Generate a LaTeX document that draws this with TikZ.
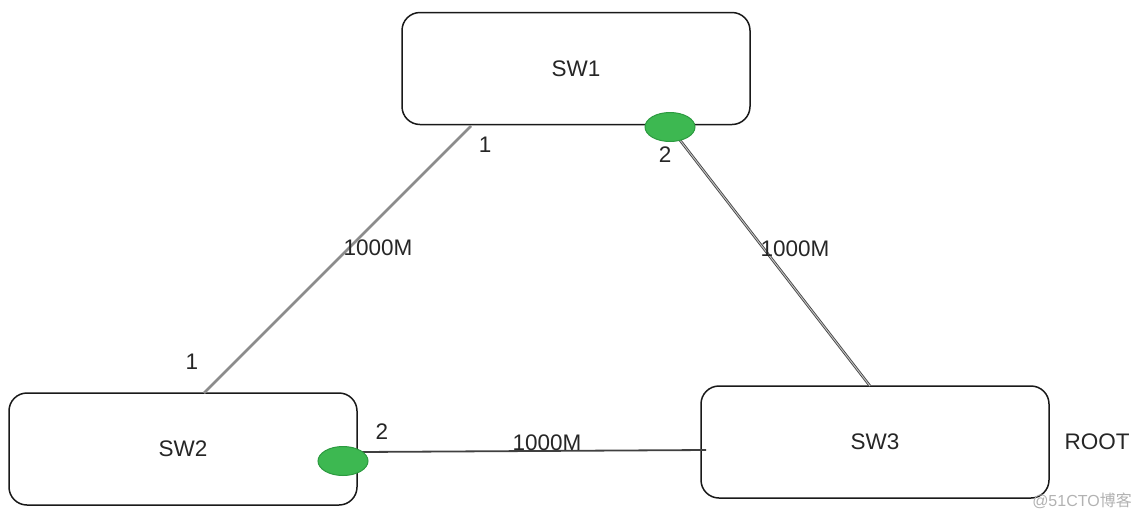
\documentclass[tikz,border=0pt]{standalone}
\usepackage{fontspec}
\setmainfont{Liberation Sans}
\newfontfamily\cjkfont{Noto Sans CJK SC}
\usetikzlibrary{shapes.geometric}
\definecolor{portgreen}{HTML}{3DB851}
\definecolor{portedge}{HTML}{2C9A40}
\definecolor{txt}{HTML}{262626}
\tikzset{
  box/.style={draw=black!90, line width=1.5pt, rounded corners=18pt, fill=white,
    minimum width=348pt, minimum height=112pt, font=\fontsize{22.5}{26}\selectfont, text=txt},
  port/.style={ellipse, draw=portedge, line width=1pt, fill=portgreen,
    minimum width=50pt, minimum height=29pt, inner sep=0pt},
  lbl/.style={font=\fontsize{22.5}{26}\selectfont, text=txt, inner sep=0pt},
  graylink/.style={draw=black!45, line width=2.6pt},
  darklink/.style={draw=black!75, line width=1.8pt},
  dbllink/.style={draw=black!75, line width=0.8pt, double=black!25, double distance=1pt}
}
\begin{document}
\begin{tikzpicture}[x=1pt,y=-1pt]
\useasboundingbox (0,0) rectangle (1139,520);
% boxes
\node[box] (SW1) at (576,68.5) {SW1};
\node[box] (SW2) at (183,449) {SW2};
\node[box] (SW3) at (875,442) {SW3};
% connection points
\coordinate (a1) at (471,126);
\coordinate (b1) at (204,393);
\coordinate (e1) at (676,135);
\coordinate (c3) at (870,386);
\coordinate (e2) at (360,452);
\coordinate (d3) at (706,450);
% links
\draw[graylink] (a1) -- (b1);
\draw[dbllink] (e1) -- (c3);
\draw[darklink] (e2) -- (d3);
% ports
\node[port] (P12) at (670,127) {};
\node[port] (P22) at (343,461) {};
% labels
\node[lbl] (l11) at (485,145) {1};
\node[lbl] (l12) at (665,155) {2};
\node[lbl] (l21) at (192,362) {1};
\node[lbl] (l22) at (382,432) {2};
\node[lbl] (m1) at (378,248) {1000M};
\node[lbl] (m2) at (795,249) {1000M};
\node[lbl] (m3) at (547,443) {1000M};
\node[lbl] (root) at (1097,442) {ROOT};
\node[font=\fontsize{16}{18}\selectfont, text=black!30, inner sep=0pt] (wm) at (1082,501) {@51CTO{\cjkfont 博客}};
\end{tikzpicture}
\end{document}
